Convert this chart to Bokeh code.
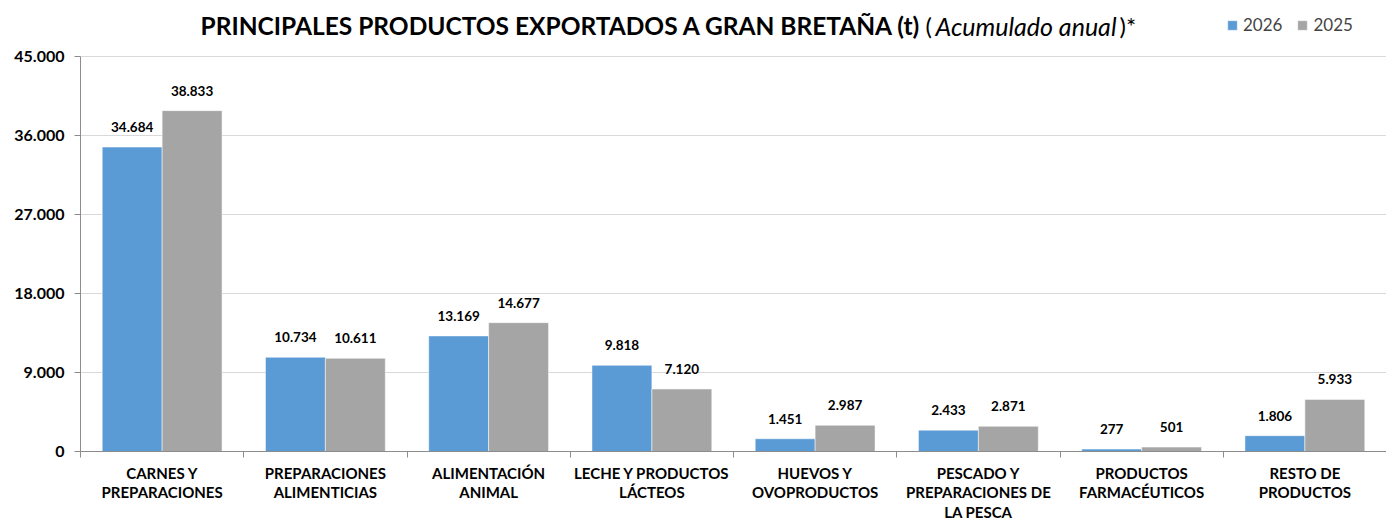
from bokeh.plotting import figure
from bokeh.models import (ColumnDataSource, FixedTicker, Label, LabelSet, Legend,
                          LegendItem, Range1d)
from bokeh.core.properties import value
from bokeh.transform import dodge
from bokeh.embed import file_html
from bokeh.resources import INLINE

# ---------------- data ----------------
categories = [
    "CARNES Y\nPREPARACIONES",
    "PREPARACIONES\nALIMENTICIAS",
    "ALIMENTACIÓN\nANIMAL",
    "LECHE Y PRODUCTOS\nLÁCTEOS",
    "HUEVOS Y\nOVOPRODUCTOS",
    "PESCADO Y\nPREPARACIONES DE\nLA PESCA",
    "PRODUCTOS\nFARMACÉUTICOS",
    "RESTO DE\nPRODUCTOS",
]
values_2026 = [34684, 10734, 13169, 9818, 1451, 2433, 277, 1806]
values_2025 = [38833, 10611, 14677, 7120, 2987, 2871, 501, 5933]
series_names = ["2026", "2025"]
y_ticks = [0, 9000, 18000, 27000, 36000, 45000]
y_tick_labels = ["0", "9.000", "18.000", "27.000", "36.000", "45.000"]

title_bold = "PRINCIPALES PRODUCTOS EXPORTADOS A GRAN BRETAÑA (t)"
title_open = "("
title_italic = "Acumulado anual"
title_close = ")*"

# ---------------- style / layout ----------------
FONT = "Lato"
BLUE = "#5B9BD5"
GRAY = "#A5A5A5"
AXIS = "#8c8c8c"
W, H = 1386, 524
BL, BR, BT, BB = 80, 0, 0, 73
FRAME_W = W - BL - BR
FRAME_H = H - BT - BB
TOP_TICK_PX = 56          # pixel row of the 45.000 line
YMAX = 45000
YTOP = YMAX * FRAME_H / (FRAME_H - (TOP_TICK_PX - BT))
N = len(categories)
BAR_W = 0.367


def fmt(v):
    return f"{v:,}".replace(",", ".")


def px_to_x(px):
    return (px - BL) / FRAME_W * N


def py_to_y(py):
    return (H - BB - py) / FRAME_H * YTOP


src = ColumnDataSource(dict(
    x=[i + 0.5 for i in range(N)],
    v26=values_2026,
    v25=values_2025,
    l26=[fmt(v) for v in values_2026],
    l25=[fmt(v) for v in values_2025],
))

p = figure(width=W, height=H, output_backend="svg", toolbar_location=None,
           title=None,
           x_range=Range1d(0, N), y_range=Range1d(0, YTOP),
           min_border_left=BL, min_border_right=BR,
           min_border_top=BT, min_border_bottom=BB)
p.outline_line_color = None
p.background_fill_color = "white"
p.border_fill_color = "white"

r26 = p.vbar(x=dodge("x", -BAR_W / 2, range=p.x_range), top="v26", width=BAR_W,
             source=src, fill_color=BLUE, line_color="white", line_width=0.5)
r25 = p.vbar(x=dodge("x", BAR_W / 2, range=p.x_range), top="v25", width=BAR_W,
             source=src, fill_color=GRAY, line_color="white", line_width=0.5)

for col, lab, off in (("v26", "l26", -BAR_W / 2), ("v25", "l25", BAR_W / 2)):
    ls = LabelSet(x=dodge("x", off, range=p.x_range), y=col, text=lab, source=src,
                  text_align="center", text_baseline="middle", y_offset=20,
                  text_font=value(FONT), text_font_style="bold",
                  text_font_size="13.5px", text_color="#000000")
    p.add_layout(ls)

# axes
p.xgrid.visible = False
p.ygrid.grid_line_color = "#d9d9d9"
p.ygrid.grid_line_width = 1

p.yaxis.ticker = FixedTicker(ticks=y_ticks)
p.yaxis.bounds = (0, YMAX)
p.yaxis.major_label_overrides = dict(zip(y_ticks, y_tick_labels))
p.yaxis.major_label_text_font = FONT
p.yaxis.major_label_text_font_style = "bold"
p.yaxis.major_label_text_font_size = "16px"
p.yaxis.major_label_text_color = "#000000"
p.yaxis.axis_line_color = AXIS
p.yaxis.major_tick_line_color = AXIS
p.yaxis.major_tick_out = 6
p.yaxis.major_tick_in = 0
p.yaxis.minor_tick_line_color = None
p.yaxis.major_label_standoff = 10

centers = [i + 0.5 for i in range(N)]
p.xaxis.ticker = FixedTicker(ticks=centers, minor_ticks=list(range(N + 1)))
p.xaxis.major_label_overrides = dict(zip(centers, categories))
p.xaxis.major_label_text_font = FONT
p.xaxis.major_label_text_font_style = "bold"
p.xaxis.major_label_text_font_size = "15px"
p.xaxis.major_label_text_line_height = 1.1
p.xaxis.major_label_text_color = "#000000"
p.xaxis.axis_line_color = AXIS
p.xaxis.major_tick_out = 0
p.xaxis.major_tick_in = 0
p.xaxis.minor_tick_out = 6
p.xaxis.minor_tick_in = 0
p.xaxis.minor_tick_line_color = AXIS
p.xaxis.major_label_standoff = 6

# title pieces
TY = py_to_y(25)
for txt, px, style, size in ((title_bold, 200, "bold", "24.5px"),
                             (title_open, 925, "normal", "24px"),
                             (title_italic, 935, "italic", "25px"),
                             (title_close, 1119, "normal", "24px")):
    p.add_layout(Label(x=px_to_x(px), y=TY, text=txt, text_font=FONT,
                       text_font_style=style, text_font_size=size,
                       text_baseline="middle", text_align="left",
                       text_color="#000000"))

legend = Legend(items=[LegendItem(label=series_names[0], renderers=[r26]),
                       LegendItem(label=series_names[1], renderers=[r25])],
                orientation="horizontal", location=(1226 - BL, H - BB - BT - 35),
                glyph_width=12, glyph_height=12, label_standoff=5, spacing=14,
                padding=0, margin=0, border_line_color=None,
                background_fill_alpha=0, label_text_font=FONT,
                label_text_font_size="17px", label_height=20)
p.add_layout(legend)

open("out.html", "w").write(file_html(p, INLINE))
